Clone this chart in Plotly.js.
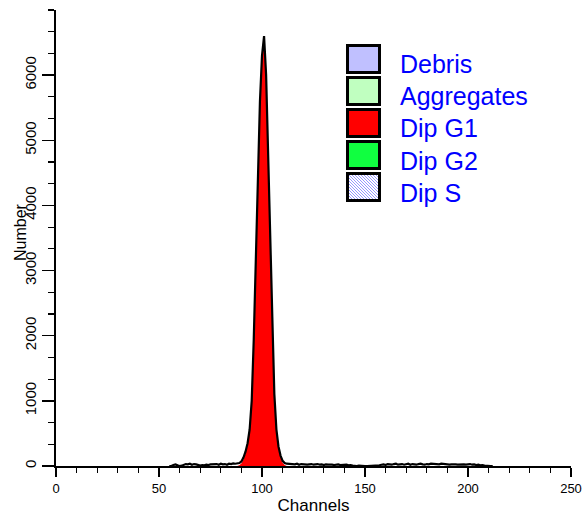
<!DOCTYPE html>
<html>
<head>
<meta charset="utf-8">
<script src="https://cdn.plot.ly/plotly-3.0.1.min.js"></script>
<style>
html,body{margin:0;padding:0;background:#fff;}
#chart{width:587px;height:515px;}
</style>
</head>
<body>
<div id="chart"></div>
<script>
// ---- Data ----
const dataChannels = [
  55,56,57,58,59,60,61,62,63,64,
  65,66,67,68,69,70,71,72,73,74,
  75,76,77,78,79,80,81,82,83,84,
  85,86,87,88,89,90,91,92,93,94,
  95,96,97,98,99,100,101,102,103,104,
  105,106,107,108,109,110,111,112,113,114,
  115,116,117,118,119,120,121,122,123,124,
  125,126,127,128,129,130,131,132,133,134,
  135,136,137,138,139,140,141,142,143,144,
  145,146,147,148,149,150,151,152,153,154,
  155,156,157,158,159,160,161,162,163,164,
  165,166,167,168,169,170,171,172,173,174,
  175,176,177,178,179,180,181,182,183,184,
  185,186,187,188,189,190,191,192,193,194,
  195,196,197,198,199,200,201,202,203,204,
  205,206,207,208,209,210,211,212
];
const dataCounts = [
  0,0,15,25,10,0,5,20,30,25,
  35,20,30,25,10,5,15,10,20,15,
  25,30,25,30,20,35,25,30,20,35,
  30,40,35,40,45,70,130,220,350,560,
  1000,1950,3200,4500,5600,6300,6600,6000,4900,3600,
  2300,1100,560,300,160,80,45,35,30,25,
  30,25,35,20,30,25,30,20,25,30,
  20,25,30,20,25,15,25,20,25,20,
  15,20,25,15,20,15,20,10,15,5,
  0,0,5,0,0,0,0,0,5,0,
  0,0,10,20,25,15,30,25,20,30,
  35,20,25,30,20,25,35,20,30,25,
  20,30,35,25,20,30,25,35,30,25,
  30,25,35,30,25,30,20,25,30,25,
  20,25,30,25,20,25,30,20,25,15,
  20,10,15,5,0,0,0,0
];
const g1Channels = [88,89,90,91,92,93,94,95,96,97,98,99,100,101,102,103,104,105,106,107,108,109,110,111,112];
const g1Model    = [0,10,40,100,190,320,530,970,1920,3170,4470,5570,6270,6570,5970,4870,3570,2270,1070,530,270,130,50,15,0];

const legendNames  = ["Debris","Aggregates","Dip G1","Dip G2","Dip S"];
const legendColors = ["#c0c0ff","#c0ffc0","#ff0000","#10ff40","#ffffff"];

const xTickVals = [0,50,100,150,200,250];
const yTickVals = [0,1000,2000,3000,4000,5000,6000];

// ---- Layout geometry ----
const W = 587, H = 515;
const M = {l:56, r:16, t:10, b:49};
const PW = W - M.l - M.r, PH = H - M.t - M.b;
const px = x => (x - M.l) / PW;
const py = y => (H - M.b - y) / PH;

const FONT = "Liberation Sans, Arial, sans-serif";

const shapes = [];
const annotations = [];
const box = {x0:347.5, x1:379.5, h:27, top0:45.5, step:32};
legendNames.forEach((name, i) => {
  const y0 = box.top0 + i*box.step, y1 = y0 + box.h;
  shapes.push({type:"rect", xref:"paper", yref:"paper", layer:"above",
    x0:px(box.x0), x1:px(box.x1), y0:py(y1), y1:py(y0),
    fillcolor:legendColors[i], line:{width:0}});
  if (name === "Dip S") {
    // diagonal hatch
    const Wb = box.x1 - box.x0, Hb = box.h, stp = 3;
    for (let c = stp; c < Wb + Hb; c += stp) {
      const u0 = Math.max(0, c - Hb), u1 = Math.min(Wb, c);
      const v0 = c - u0, v1 = c - u1;
      shapes.push({type:"line", xref:"paper", yref:"paper", layer:"above",
        x0:px(box.x0 + u0), y0:py(y1 - v0), x1:px(box.x0 + u1), y1:py(y1 - v1),
        line:{color:"#5050ff", width:0.6}});
    }
  }
  shapes.push({type:"rect", xref:"paper", yref:"paper", layer:"above",
    x0:px(box.x0), x1:px(box.x1), y0:py(y1), y1:py(y0),
    fillcolor:"rgba(0,0,0,0)", line:{color:"#000", width:3}});
  annotations.push({xref:"paper", yref:"paper", x:px(397.5), y:py(y0 + 19),
    xanchor:"left", yanchor:"middle", showarrow:false, text:name,
    font:{family:FONT, size:25, color:"#0000ff"}});
});

// y-axis title placed like the reference (close to the tick labels)
annotations.push({xref:"paper", yref:"paper", x:px(21), y:py(232), xanchor:"center", yanchor:"middle",
  textangle:-90, showarrow:false, text:"Number", font:{family:FONT, size:16, color:"#000"}});

const traces = [
  {type:"scatter", mode:"lines", name:"Dip G1", x:g1Channels, y:g1Model,
   fill:"tozeroy", fillcolor:"#ff0000", line:{width:0, color:"#ff0000"}, hoverinfo:"skip"},
  {type:"scatter", mode:"lines", name:"Data", x:dataChannels, y:dataCounts,
   line:{color:"#000000", width:2.2}, hoverinfo:"skip"}
];

const layout = {
  width:W, height:H,
  margin:M,
  paper_bgcolor:"#ffffff", plot_bgcolor:"#ffffff",
  showlegend:false,
  font:{family:FONT, color:"#000"},
  xaxis:{range:[0,250], tickvals:xTickVals, ticks:"outside", ticklen:9, tickwidth:1.5, tickcolor:"#000",
    showline:true, linewidth:2, linecolor:"#000", showgrid:false, zeroline:false,
    tickfont:{family:FONT, size:13}, fixedrange:true,
    minor:{dtick:10, ticks:"outside", ticklen:5, tickwidth:1.2, tickcolor:"#000", showgrid:false},
    title:{text:"Channels", font:{family:FONT, size:17}, standoff:5}},
  yaxis:{range:[0,7000], tickvals:yTickVals, ticks:"outside", ticklen:12, tickwidth:1.5, tickcolor:"#000",
    tickangle:-90, showline:true, linewidth:2, linecolor:"#000", showgrid:false, zeroline:false,
    tickfont:{family:FONT, size:15}, fixedrange:true,
    minor:{dtick:1000/3, ticks:"outside", ticklen:6, tickwidth:1.2, tickcolor:"#000", showgrid:false}},
  shapes:shapes,
  annotations:annotations
};

Plotly.newPlot("chart", traces, layout, {displayModeBar:false, staticPlot:true});
</script>
</body>
</html>
